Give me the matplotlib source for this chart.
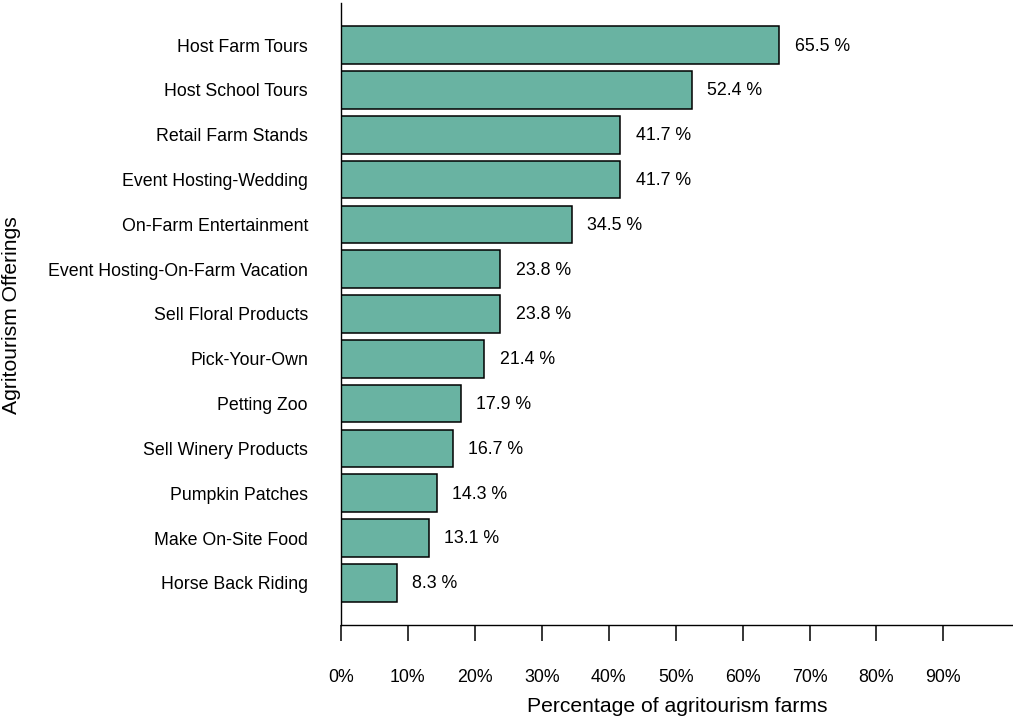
import matplotlib
matplotlib.use("Agg")
import matplotlib.pyplot as plt
from matplotlib.ticker import FuncFormatter

# data (top to bottom as in the chart)
offerings = ["Host Farm Tours", "Host School Tours", "Retail Farm Stands",
             "Event Hosting-Wedding", "On-Farm Entertainment",
             "Event Hosting-On-Farm Vacation", "Sell Floral Products",
             "Pick-Your-Own", "Petting Zoo", "Sell Winery Products",
             "Pumpkin Patches", "Make On-Site Food", "Horse Back Riding"]
percent = [65.5, 52.4, 41.7, 41.7, 34.5, 23.8, 23.8, 21.4, 17.9, 16.7, 14.3, 13.1, 8.3]
xticks = [0, 10, 20, 30, 40, 50, 60, 70, 80, 90]

plt.rcParams['font.family'] = ['Liberation Sans', 'DejaVu Sans']

fig = plt.figure(figsize=(10.13, 7.22), dpi=100)
ax = fig.add_axes([341 / 1013, 97 / 722, 672 / 1013, 622 / 722])

ypos = list(range(len(offerings)))
ax.barh(ypos, percent, height=0.84, color='#69b3a2', edgecolor='black', linewidth=1.1)

# value labels
for y, v in zip(ypos, percent):
    ax.text(v + 2.3, y + 0.02, f"{v} %", va='center', ha='left', fontsize=12.75)

ax.set_yticks(ypos)
ax.set_yticklabels(offerings, fontsize=12.75)
ax.set_ylim(len(offerings) - 1 + 0.94, -0.94)
ax.set_xlim(0, 100.4)
ax.set_xticks(xticks)
ax.xaxis.set_major_formatter(FuncFormatter(lambda x, p: f"{int(x)}%"))

ax.tick_params(axis='y', length=0, pad=23.8)
ax.tick_params(axis='x', length=11.5, width=1.1, pad=20, labelsize=12.75)

for s in ['top', 'right']:
    ax.spines[s].set_visible(False)
for s in ['left', 'bottom']:
    ax.spines[s].set_linewidth(1.0)

fig.text(677 / 1013, 1 - 707 / 722, "Percentage of agritourism farms",
         ha='center', va='center', fontsize=15.2)
fig.text(12 / 1013, 1 - 315 / 722, "Agritourism Offerings",
         ha='center', va='center', rotation=90, fontsize=15.2)

fig.savefig("out.png", dpi=100)
